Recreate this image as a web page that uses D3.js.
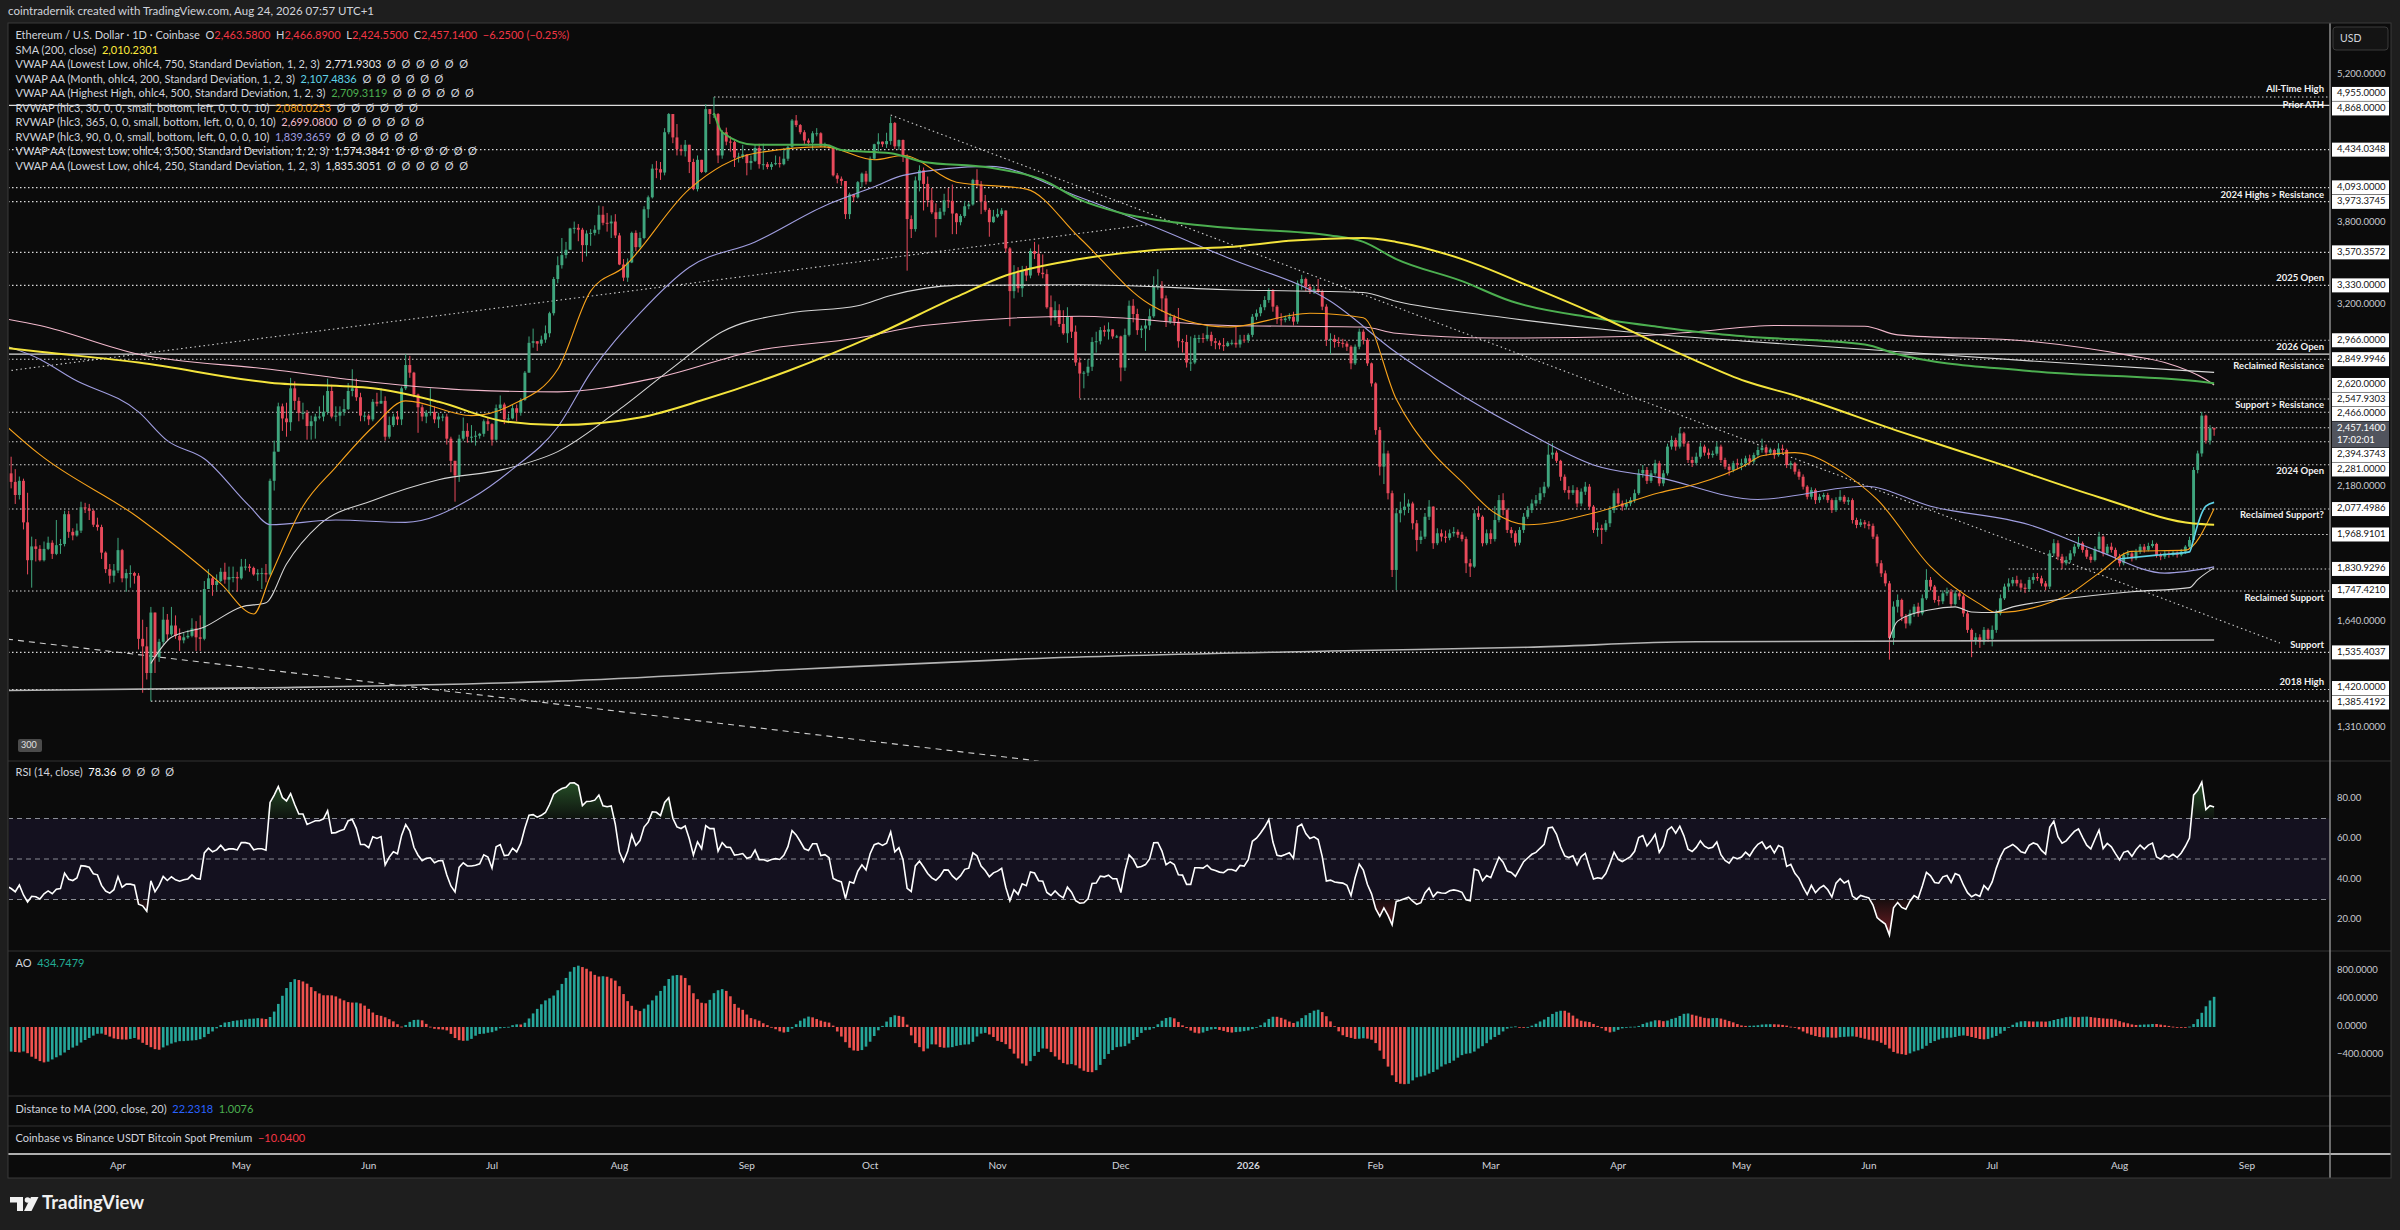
<!DOCTYPE html>
<html lang="en">
<head>
<meta charset="UTF-8" />
<title>Ethereum / U.S. Dollar - 1D - Coinbase</title>
<script src="https://d3js.org/d3.v7.min.js"></script>
<style>
  html, body { margin: 0; padding: 0; background: #1e1e1e; }
  svg { display: block; font-family: Lato, "Open Sans", sans-serif; }
  .pre { white-space: pre; }
</style>
</head>
<body>
<svg id="chart" width="2400" height="1230"></svg>
<script>
// ---- daily candles, Coinbase ETH-USD, open = previous close ----
const startDay = "2025-02-01";
const firstOpen = 3300;
const closes = [
  // 2025 Feb
  3120,2870,2880,2730,2785,2690,2630,2635,2630,2660,2600,2740,2675,2725,2690,2665,2745,2675,2720,2740,2665,2765,2820,2500,2490,2340,2310,2240,
  // Mar
  2220,2520,2150,2170,2240,2200,2140,2205,2020,1865,1920,1910,1865,1910,1935,1890,1925,1930,2055,1980,1965,1985,2085,2080,2070,2010,2000,1895,1830,1805,1825,
  // Apr
  1905,1795,1815,1815,1805,1580,1555,1470,1670,1520,1570,1645,1595,1625,1590,1575,1585,1590,1615,1585,1580,1755,1795,1770,1785,1820,1790,1800,1800,1795,
  // May
  1840,1840,1835,1810,1815,1815,1810,2205,2345,2580,2515,2495,2680,2610,2545,2545,2475,2500,2525,2525,2550,2665,2525,2530,2550,2565,2665,2680,2630,2530,2530,
  // Jun
  2510,2605,2595,2610,2420,2480,2525,2510,2680,2815,2770,2645,2575,2525,2545,2550,2510,2525,2525,2410,2300,2230,2410,2450,2420,2420,2425,2435,2500,2485,
  // Jul
  2405,2570,2590,2510,2515,2570,2545,2615,2770,2950,2960,2945,2970,3010,3140,3375,3475,3550,3590,3755,3760,3745,3625,3715,3720,3745,3865,3800,3795,3810,3700,
  // Aug
  3480,3385,3495,3720,3610,3680,3910,4010,4260,4255,4225,4600,4780,4550,4440,4420,4480,4320,4080,4340,4230,4830,4780,4780,4380,4600,4510,4505,4360,4370,4390,
  // Sep
  4310,4330,4450,4300,4300,4275,4300,4310,4300,4350,4460,4715,4670,4600,4520,4500,4590,4590,4470,4480,4450,4200,4170,4150,3870,4035,4010,4140,4215,4145,
  // Oct
  4350,4485,4510,4485,4515,4690,4465,4525,4370,3830,3750,4155,4245,4125,3985,3885,3830,3890,3985,3980,3875,3805,3855,3935,3950,4160,4120,3975,3905,3805,3850,
  // Nov
  3870,3900,3600,3290,3420,3310,3440,3400,3580,3560,3420,3410,3180,3110,3160,3070,3010,3120,3020,2830,2765,2770,2805,2955,2960,3030,3020,3035,2990,2990,
  // Dec
  2800,3000,3190,3135,3030,3040,3060,3120,3320,3325,3240,3085,3115,3085,2960,2955,2830,2830,2980,2980,2975,3000,2960,2950,2935,2930,2950,2950,2940,2970,2966,
  // 2026 Jan
  3000,3117,3140,3180,3229,3298,3184,3100,3095,3105,3117,3085,3345,3375,3320,3290,3305,3290,3184,2968,2975,2955,2950,2945,2926,2825,2926,3020,2968,2825,2708,
  // Feb
  2454,2272,2336,2148,1827,2059,2073,2088,2102,2016,1946,1960,2044,2088,1933,1974,1960,1955,1974,1980,1968,1950,1853,1840,2059,2044,1933,1974,
  // Mar
  1950,2030,2117,2073,1988,1974,1935,1988,2044,2073,2102,2117,2148,2178,2330,2340,2300,2224,2162,2150,2162,2102,2155,2178,2088,1988,1995,1988,2016,2073,2148,
  // Apr
  2102,2088,2102,2117,2148,2240,2256,2205,2240,2288,2193,2240,2370,2403,2370,2437,2385,2304,2290,2320,2370,2340,2328,2335,2370,2304,2272,2256,2288,2280,
  // May
  2288,2312,2296,2328,2353,2365,2340,2353,2328,2360,2353,2280,2288,2248,2224,2178,2132,2162,2117,2132,2140,2117,2073,2117,2132,2110,2117,2030,2009,2020,2012,
  // Jun
  2005,1960,1853,1814,1776,1583,1691,1715,1656,1632,1667,1691,1667,1721,1789,1764,1715,1710,1739,1745,1700,1739,1728,1667,1610,1576,1585,1570,1610,1580,
  // Jul
  1610,1667,1721,1764,1776,1789,1776,1760,1755,1789,1800,1795,1776,1764,1892,1933,1879,1853,1866,1892,1919,1933,1906,1879,1866,1910,1960,1892,1919,1906,1879,
  // Aug
  1853,1886,1892,1872,1899,1919,1906,1922,1930,1886,1879,1892,1886,1895,1886,1899,1919,1946,2256,2336,2530,2400,2463.58,2457.14
];
const highs = [
  3340,3160,2950,2920,2830,2860,2795,2680,2700,2700,2730,2790,2780,2790,2740,2720,2850,2760,2730,2770,2850,2780,2855,2830,2545,2520,2385,2325,
  2260,2550,2525,2215,2280,2320,2260,2225,2215,2150,1960,1950,1925,1940,1960,1945,2030,1950,2070,2070,1995,2015,2110,2105,2100,2075,2040,2010,1900,1850,1850,
  1955,1910,1830,1845,1820,1815,1645,1620,1690,1670,1580,1690,1665,1690,1660,1615,1600,1610,1650,1640,1660,1785,1830,1800,1810,1835,1855,1840,1840,1820,
  1870,1870,1850,1840,1830,1835,1850,2215,2400,2600,2595,2600,2740,2720,2630,2600,2560,2530,2540,2580,2640,2735,2700,2580,2580,2620,2710,2790,2735,2655,2545,
  2540,2620,2655,2680,2635,2525,2540,2555,2690,2880,2870,2775,2650,2590,2560,2680,2580,2545,2540,2540,2420,2300,2430,2520,2490,2480,2450,2440,2510,2520,
  2490,2590,2640,2600,2540,2590,2590,2625,2780,2990,3040,2960,2995,3060,3150,3390,3540,3680,3650,3760,3810,3790,3760,3740,3750,3780,3940,3935,3880,3860,3870,
  3720,3520,3525,3730,3740,3725,3935,4025,4300,4330,4320,4640,4790,4780,4680,4480,4525,4480,4350,4380,4340,4880,4825,4955,4790,4620,4645,4560,4520,4405,4480,
  4390,4380,4480,4490,4490,4320,4320,4380,4370,4450,4470,4730,4770,4680,4620,4540,4610,4640,4600,4500,4480,4450,4220,4190,4150,4050,4040,4150,4225,4240,
  4370,4490,4590,4510,4595,4755,4700,4530,4530,4390,3860,4190,4290,4270,4190,4090,3960,3920,4040,4090,4120,3880,3870,3980,3970,4170,4255,4150,4030,3920,3905,
  3915,3920,3900,3610,3475,3460,3470,3470,3600,3650,3630,3555,3445,3260,3220,3200,3160,3180,3100,3060,2860,2780,2850,2985,3020,3050,3060,3080,3035,3000,
  2995,3040,3225,3235,3170,3060,3100,3170,3395,3445,3360,3260,3140,3130,3175,2975,3000,2990,3000,3000,3010,3055,3020,2980,2965,2980,2960,2970,3050,3000,3000,
  3010,3135,3165,3200,3255,3310,3305,3195,3140,3125,3140,3150,3365,3405,3385,3340,3325,3375,3300,3200,3010,3000,2985,2975,2960,2935,2940,3040,3035,2980,2830,
  2715,2470,2400,2350,2160,2080,2110,2148,2120,2110,2030,1985,2060,2117,2090,1995,1990,1985,1990,2000,1990,1980,1960,1870,2075,2090,2050,1990,
  1990,2090,2140,2148,2080,2000,1985,2000,2060,2090,2120,2140,2175,2200,2380,2387,2350,2305,2235,2180,2185,2175,2170,2200,2190,2095,2020,2010,2030,2090,2160,
  2170,2115,2120,2130,2165,2260,2280,2270,2255,2305,2300,2255,2385,2425,2415,2466,2445,2395,2320,2340,2390,2380,2360,2350,2395,2380,2315,2285,2300,2310,
  2310,2325,2330,2340,2370,2410,2380,2365,2360,2387,2380,2360,2300,2295,2260,2235,2185,2175,2170,2145,2150,2150,2125,2130,2162,2140,2130,2125,2040,2035,2030,
  2025,2015,1970,1865,1825,1785,1710,1735,1720,1665,1680,1700,1705,1735,1830,1800,1770,1730,1750,1760,1755,1750,1750,1735,1675,1615,1600,1595,1620,1615,
  1625,1680,1735,1775,1795,1800,1805,1790,1775,1800,1815,1815,1805,1785,1905,1950,1945,1890,1880,1905,1930,1960,1940,1915,1890,1920,1980,1965,1930,1935,1915,
  1890,1895,1905,1900,1910,1930,1930,1935,1945,1935,1895,1905,1900,1905,1900,1910,1925,1960,2270,2350,2550,2535,2480,2466.89
];
const lows = [
  3110,2730,2150,2650,2720,2660,2565,2590,2550,2600,2580,2560,2655,2660,2675,2650,2665,2640,2660,2705,2625,2655,2740,2490,2330,2310,2250,2080,
  2140,2180,2100,1995,2160,2170,2100,2120,1990,1810,1760,1860,1860,1860,1905,1870,1885,1890,1920,1955,1945,1960,1975,2060,2030,2000,1985,1870,1815,1775,1780,
  1815,1780,1745,1760,1775,1545,1410,1450,1385,1470,1505,1560,1575,1590,1580,1540,1565,1580,1585,1540,1540,1575,1760,1730,1750,1780,1775,1740,1780,1745,
  1790,1825,1820,1805,1785,1755,1780,1805,2160,2345,2450,2420,2450,2560,2500,2510,2405,2405,2410,2510,2500,2535,2515,2500,2475,2530,2560,2635,2610,2500,2500,
  2480,2500,2580,2600,2400,2410,2470,2480,2480,2670,2740,2630,2440,2500,2490,2530,2490,2465,2500,2380,2245,2110,2200,2400,2390,2390,2375,2410,2420,2450,
  2375,2400,2555,2485,2490,2510,2500,2530,2610,2770,2920,2900,2930,2950,2985,3125,3345,3450,3525,3590,3715,3655,3500,3540,3620,3700,3710,3780,3730,3680,3680,
  3475,3360,3355,3490,3580,3600,3670,3840,4000,4175,4160,4200,4580,4495,4380,4380,4370,4220,4070,4060,4220,4220,4680,4740,4310,4350,4475,4415,4275,4315,4350,
  4200,4250,4320,4260,4250,4255,4250,4290,4270,4290,4330,4450,4650,4580,4480,4470,4430,4560,4460,4450,4440,4190,4130,4110,3830,3830,3970,4000,4095,4120,
  4140,4340,4420,4460,4450,4480,4440,4430,4320,3435,3680,3730,4060,3900,3930,3870,3685,3830,3860,3920,3710,3710,3780,3840,3910,3940,4100,3870,3890,3690,3800,
  3840,3855,3570,3055,3240,3280,3250,3360,3380,3520,3400,3380,3170,3060,3090,3050,3000,2950,2980,2810,2625,2680,2750,2780,2890,2940,2990,2970,2975,2980,
  2720,2780,2990,3080,3000,2980,2900,3030,3110,3300,3150,3050,3070,3060,2920,2890,2800,2780,2820,2950,2950,2960,2930,2910,2910,2900,2925,2935,2920,2920,2950,
  2950,2985,3095,3120,3160,3210,3150,3070,3060,3080,3090,3060,3070,3300,3290,3270,3270,3275,3160,2930,2880,2920,2925,2920,2900,2790,2815,2910,2940,2810,2690,
  2430,2230,2190,2120,1800,1751,2020,2050,2060,1990,1900,1930,1950,2030,1910,1925,1940,1935,1945,1960,1955,1940,1815,1800,1835,2030,1920,1925,
  1930,1940,2020,2050,1975,1955,1920,1925,1975,2035,2060,2090,2100,2130,2170,2310,2290,2205,2150,2120,2140,2085,2090,2140,2075,1975,1960,1930,1980,2000,2060,
  2090,2070,2075,2090,2105,2140,2220,2190,2195,2230,2180,2180,2230,2355,2350,2360,2370,2290,2270,2280,2310,2325,2310,2315,2325,2290,2260,2230,2245,2260,
  2255,2270,2280,2285,2315,2340,2325,2330,2310,2320,2335,2265,2260,2235,2210,2165,2120,2120,2100,2105,2120,2105,2060,2065,2110,2100,2095,2015,1995,2000,1995,
  1990,1950,1840,1800,1765,1512,1560,1670,1640,1615,1625,1655,1655,1660,1715,1750,1705,1695,1700,1730,1690,1695,1715,1655,1600,1520,1560,1550,1560,1570,
  1555,1600,1660,1715,1750,1765,1765,1750,1740,1745,1775,1785,1765,1750,1755,1880,1865,1830,1845,1855,1880,1910,1895,1870,1855,1860,1900,1880,1885,1895,1865,
  1840,1845,1870,1860,1865,1890,1895,1900,1915,1875,1865,1870,1875,1880,1875,1880,1890,1910,1940,2240,2320,2385,2380,2424.55
];

// ---- indicator lines (date, value) ----
const sma200 = [["2025-03-01",2930],["2025-03-13",2895],["2025-04-06",2830],["2025-05-08",2712],["2025-06-02",2680],["2025-06-18",2605],["2025-07-04",2500],["2025-07-17",2480],["2025-08-06",2520],["2025-08-22",2620],["2025-09-11",2780],["2025-10-02",2995],["2025-10-22",3250],["2025-11-03",3400],["2025-11-21",3520],["2025-12-08",3585],["2025-12-27",3610],["2026-01-12",3660],["2026-01-29",3680],["2026-02-06",3650],["2026-02-22",3520],["2026-03-10",3330],["2026-03-26",3140],["2026-04-11",2940],["2026-04-20",2840],["2026-05-02",2720],["2026-05-14",2640],["2026-06-08",2450],["2026-07-02",2290],["2026-07-27",2130],["2026-08-19",2015],["2026-08-24",2010]];
const vwapHighestHigh = [["2025-08-24",4790],["2025-08-26",4600],["2025-09-03",4480],["2025-09-20",4480],["2025-09-24",4430],["2025-10-06",4400],["2025-10-14",4320],["2025-10-30",4270],["2025-11-12",4160],["2025-11-21",3990],["2025-12-01",3880],["2025-12-15",3800],["2025-12-27",3760],["2026-01-21",3700],["2026-01-29",3650],["2026-02-06",3520],["2026-02-22",3360],["2026-03-06",3220],["2026-03-26",3110],["2026-04-11",3050],["2026-04-20",3020],["2026-05-02",2990],["2026-05-31",2940],["2026-06-08",2880],["2026-07-10",2780],["2026-08-20",2720],["2026-08-24",2709]];
const vwapLowest750 = [["2025-04-09",1500],["2025-04-14",1585],["2025-04-22",1620],["2025-05-01",1690],["2025-05-07",1705],["2025-05-12",1850],["2025-05-20",2010],["2025-06-02",2115],["2025-06-18",2210],["2025-07-04",2260],["2025-07-17",2345],["2025-08-02",2580],["2025-08-14",2800],["2025-08-26",3020],["2025-09-11",3140],["2025-09-28",3190],["2025-10-06",3260],["2025-10-22",3330],["2025-11-21",3335],["2025-12-27",3300],["2026-01-29",3280],["2026-02-06",3220],["2026-03-02",3120],["2026-04-03",3020],["2026-05-02",2960],["2026-05-31",2910],["2026-07-10",2840],["2026-08-24",2772]];
const rvwap365 = [["2025-03-01",3120],["2025-03-13",3060],["2025-04-06",2880],["2025-05-08",2790],["2025-06-02",2715],["2025-06-26",2670],["2025-07-17",2660],["2025-08-10",2740],["2025-09-03",2900],["2025-09-28",2980],["2025-10-14",3060],["2025-11-21",3120],["2025-12-27",3060],["2026-01-29",3050],["2026-02-06",3010],["2026-03-02",2980],["2026-04-03",2990],["2026-04-20",3020],["2026-05-09",3060],["2026-05-31",3055],["2026-06-08",3000],["2026-07-10",2960],["2026-08-04",2870],["2026-08-12",2830],["2026-08-22",2730],["2026-08-24",2699]];
const rvwap90 = [["2025-03-01",2960],["2025-03-13",2850],["2025-03-21",2735],["2025-04-06",2550],["2025-04-13",2400],["2025-04-22",2310],["2025-05-03",2090],["2025-05-08",2010],["2025-05-24",2030],["2025-06-10",2020],["2025-06-26",2125],["2025-07-06",2260],["2025-07-17",2470],["2025-07-25",2770],["2025-08-06",3140],["2025-08-18",3460],["2025-09-03",3650],["2025-09-20",3940],["2025-10-02",4100],["2025-10-09",4200],["2025-10-30",4280],["2025-11-21",4010],["2025-12-27",3530],["2026-01-21",3220],["2026-02-06",2890],["2026-02-22",2640],["2026-03-10",2440],["2026-03-26",2280],["2026-04-11",2220],["2026-05-05",2120],["2026-05-31",2180],["2026-06-16",2090],["2026-07-10",2010],["2026-07-27",1900],["2026-08-12",1815],["2026-08-24",1839]];
const rvwap30 = [["2025-03-01",2550],["2025-03-13",2330],["2025-04-06",2040],["2025-04-26",1775],["2025-05-04",1665],["2025-05-08",1800],["2025-05-16",2090],["2025-05-24",2270],["2025-06-02",2470],["2025-06-10",2610],["2025-06-26",2530],["2025-07-06",2590],["2025-07-17",2790],["2025-07-25",3290],["2025-08-02",3460],["2025-08-18",4080],["2025-09-03",4400],["2025-09-20",4460],["2025-10-02",4340],["2025-10-09",4380],["2025-10-22",4140],["2025-11-08",4080],["2025-11-21",3680],["2025-12-08",3200],["2025-12-27",3050],["2026-01-16",3140],["2026-01-29",3110],["2026-02-06",2620],["2026-02-14",2360],["2026-02-22",2200],["2026-03-02",2060],["2026-03-10",2010],["2026-03-26",2060],["2026-04-11",2150],["2026-04-20",2190],["2026-05-02",2280],["2026-05-06",2325],["2026-05-14",2340],["2026-05-26",2240],["2026-06-03",2120],["2026-06-16",1840],["2026-06-28",1700],["2026-07-02",1670],["2026-07-19",1730],["2026-07-27",1815],["2026-08-04",1900],["2026-08-17",1905],["2026-08-24",2080]];
const vwapMonth = [["2026-08-01",1870],["2026-08-10",1885],["2026-08-18",1898],["2026-08-19",1950],["2026-08-20",2010],["2026-08-21",2060],["2026-08-22",2090],["2026-08-24",2107]];
const vwapLowest250 = [["2026-06-06",1580],["2026-06-08",1640],["2026-06-16",1680],["2026-06-22",1690],["2026-06-26",1672],["2026-07-01",1670],["2026-07-06",1690],["2026-07-19",1720],["2026-08-04",1745],["2026-08-18",1760],["2026-08-20",1790],["2026-08-24",1835]];
const vwapLowest3500 = [["2025-03-01",1416],["2025-05-08",1425],["2025-07-17",1445],["2025-09-11",1480],["2025-11-08",1515],["2026-01-21",1540],["2026-03-10",1552],["2026-04-20",1570],["2026-08-24",1576]];

// ---- drawn levels and trend lines ----
const levels = [
  {price: 4955, name: "All-Time High", from: "2025-08-24"},
  {price: 4868, name: "Prior ATH", solid: true},
  {price: 4434.0348},
  {price: 4093, name: "2024 Highs > Resistance"},
  {price: 3973.3745},
  {price: 3570.3572},
  {price: 3330, name: "2025 Open"},
  {price: 2966, name: "2026 Open", from: "2026-01-01"},
  {price: 2849.9946, name: "Reclaimed Resistance"},
  {price: 2620, from: "2025-11-21"},
  {price: 2547.9303, name: "Support > Resistance"},
  {price: 2466, from: "2026-04-16"},
  {price: 2394.3743},
  {price: 2281, name: "2024 Open"},
  {price: 2077.4986, name: "Reclaimed Support?"},
  {price: 1968.9101, from: "2026-07-19"},
  {price: 1830.9296, from: "2026-07-05"},
  {price: 1747.421, name: "Reclaimed Support"},
  {price: 1535.4037, name: "Support"},
  {price: 1420, name: "2018 High"},
  {price: 1385.4192, from: "2025-04-09"}
];
const extraLine = 2880;   // solid horizontal with no scale label
const trendLines = [
  {a: ["2025-03-05", 1579], b: ["2025-11-11", 1221], dash: "6,5"},
  {a: ["2025-03-05", 2780], b: ["2025-12-08", 3787], dash: "1.5,3"},
  {a: ["2025-10-06", 4770], b: ["2026-09-09", 1566], dash: "1.5,3"}
];
const priceTicks = [5200, 3800, 3400, 3200, 3000, 2800, 2180, 1940, 1640, 1460, 1310];
const rsiTicks = [80, 60, 40, 20];
const aoTicks = [800, 400, 0, -400];
const lastPrice = 2457.14, countdown = "17:02:01";

const legendRows = [
  [["Ethereum / U.S. Dollar · 1D · Coinbase  O", "txt"], ["2,463.5800", "red"], ["  H", "txt"], ["2,466.8900", "red"], ["  L", "txt"], ["2,424.5500", "red"], ["  C", "txt"], ["2,457.1400", "red"], ["  −6.2500 (−0.25%)", "red"]],
  [["SMA (200, close)  ", "txt"], ["2,010.2301", "yellow"]],
  [["VWAP AA (Lowest Low, ohlc4, 750, Standard Deviation, 1, 2, 3)  ", "txt"], ["2,771.9303", "white"], ["  Ø  Ø  Ø  Ø  Ø  Ø", "txt"]],
  [["VWAP AA (Month, ohlc4, 200, Standard Deviation, 1, 2, 3)  ", "txt"], ["2,107.4836", "cyan"], ["  Ø  Ø  Ø  Ø  Ø  Ø", "txt"]],
  [["VWAP AA (Highest High, ohlc4, 500, Standard Deviation, 1, 2, 3)  ", "txt"], ["2,709.3119", "green"], ["  Ø  Ø  Ø  Ø  Ø  Ø", "txt"]],
  [["RVWAP (hlc3, 30, 0, 0, small, bottom, left, 0, 0, 0, 10)  ", "txt"], ["2,080.0253", "orange"], ["  Ø  Ø  Ø  Ø  Ø  Ø", "txt"]],
  [["RVWAP (hlc3, 365, 0, 0, small, bottom, left, 0, 0, 0, 10)  ", "txt"], ["2,699.0800", "pink"], ["  Ø  Ø  Ø  Ø  Ø  Ø", "txt"]],
  [["RVWAP (hlc3, 90, 0, 0, small, bottom, left, 0, 0, 0, 10)  ", "txt"], ["1,839.3659", "lavender"], ["  Ø  Ø  Ø  Ø  Ø  Ø", "txt"]],
  [["VWAP AA (Lowest Low, ohlc4, 3,500, Standard Deviation, 1, 2, 3)  ", "txt"], ["1,574.3841", "white"], ["  Ø  Ø  Ø  Ø  Ø  Ø", "txt"]],
  [["VWAP AA (Lowest Low, ohlc4, 250, Standard Deviation, 1, 2, 3)  ", "txt"], ["1,835.3051", "white"], ["  Ø  Ø  Ø  Ø  Ø  Ø", "txt"]]
];

// ---------------- drawing ----------------
const col = {
  bg: "#1e1e1e", pane: "#0b0b0b", txt: "#d1d4dc", sep: "#2f2f2f", axisLine: "#8c8c8c",
  up: "#3fa57d", down: "#e84a5b", red: "#f23645", yellow: "#ffeb3b", white: "#e8e8e8",
  cyan: "#5fd3e8", green: "#4caf50", orange: "#f7a21b", pink: "#f2b8cc", lavender: "#a09ee0",
  aoUp: "#26a69a", aoDown: "#f0524f"
};
const L = 8, R = 2391, PR = 2330;
const pane = {main: [23, 761], rsi: [761, 951], ao: [951, 1096], dist: [1096, 1126], prem: [1126, 1154], axis: [1154, 1178]};

const svg = d3.select("#chart");
const parse = d3.utcParse("%Y-%m-%d");
const t0 = parse(startDay);

const bars = closes.map((c, i) => {
  const o = i ? closes[i - 1] : firstOpen;
  return {date: d3.utcDay.offset(t0, i), o, c, h: Math.max(highs[i], o, c), l: Math.min(lows[i], o, c)};
});

const x = d3.scaleUtc().domain([parse("2025-04-01"), parse("2026-09-01")]).range([118, 2247]);
const y = d3.scaleLog().domain([1221, 5792]).range([761, 23]);
const yR = d3.scaleLinear().domain([0, 100]).range([960.25, 757.75]);
const yA = d3.scaleLinear().domain([-400, 800]).range([1055, 971]);

// background
svg.append("rect").attr("width", 2400).attr("height", 1230).attr("fill", col.bg);
svg.append("rect").attr("x", L).attr("y", pane.main[0]).attr("width", R - L).attr("height", pane.axis[1] - pane.main[0]).attr("fill", col.pane);

const defs = svg.append("defs");
function clip(id, top, bottom) {
  defs.append("clipPath").attr("id", id).append("rect").attr("x", L + 1).attr("y", top).attr("width", PR - L - 1).attr("height", bottom - top);
  return `url(#${id})`;
}
const clipMain = clip("cMain", pane.main[0] + 1, pane.main[1]);
const clipRsi = clip("cRsi", pane.rsi[0] + 1, pane.rsi[1]);
const clipAo = clip("cAo", pane.ao[0] + 1, pane.ao[1]);

// title
svg.append("text").attr("x", 8).attr("y", 12).attr("dominant-baseline", "middle")
  .attr("font-size", 11.5).attr("fill", col.txt)
  .text("cointradernik created with TradingView.com, Aug 24, 2026 07:57 UTC+1");

// ---- main pane ----
const gMain = svg.append("g").attr("clip-path", clipMain);

// horizontal levels
levels.forEach(lv => {
  const x0 = lv.from ? x(parse(lv.from)) : L;
  gMain.append("line").attr("x1", x0).attr("x2", PR).attr("y1", y(lv.price)).attr("y2", y(lv.price))
    .attr("stroke", "#dcdcdc").attr("stroke-width", lv.solid ? 1.2 : 1.1)
    .attr("stroke-dasharray", lv.solid ? null : "1.5,2.5");
});
gMain.append("line").attr("x1", L).attr("x2", PR).attr("y1", y(extraLine)).attr("y2", y(extraLine))
  .attr("stroke", "#e0e0e0").attr("stroke-width", 1.2);

// trend lines
trendLines.forEach(t => {
  gMain.append("line")
    .attr("x1", x(parse(t.a[0]))).attr("y1", y(t.a[1]))
    .attr("x2", x(parse(t.b[0]))).attr("y2", y(t.b[1]))
    .attr("stroke", "#cfcfcf").attr("stroke-width", 1.1).attr("stroke-dasharray", t.dash);
});

// candles
const bw = 2.9;
const cg = gMain.append("g");
cg.selectAll("line.wick").data(bars).join("line").attr("class", "wick")
  .attr("x1", d => x(d.date)).attr("x2", d => x(d.date))
  .attr("y1", d => y(d.h)).attr("y2", d => y(d.l))
  .attr("stroke", d => d.c >= d.o ? col.up : col.down).attr("stroke-width", 1);
cg.selectAll("rect.body").data(bars).join("rect").attr("class", "body")
  .attr("x", d => x(d.date) - bw / 2).attr("width", bw)
  .attr("y", d => y(Math.max(d.o, d.c)))
  .attr("height", d => Math.max(1, Math.abs(y(d.o) - y(d.c))))
  .attr("fill", d => d.c >= d.o ? col.up : col.down);

// indicator lines
const line = d3.line().x(d => x(parse(d[0]))).y(d => y(d[1])).curve(d3.curveMonotoneX);
const series = [
  [vwapLowest3500, "#b4b4b4", 1.6],
  [rvwap365, col.pink, 1.1],
  [vwapLowest750, "#d6d6d6", 1.1],
  [rvwap90, col.lavender, 1.1],
  [rvwap30, col.orange, 1.1],
  [vwapLowest250, "#d6d6d6", 1.1],
  [vwapHighestHigh, col.green, 2],
  [sma200, "#f4e43c", 2],
  [vwapMonth, col.cyan, 1.6]
];
series.forEach(([d, c, w]) => {
  gMain.append("path").attr("d", line(d)).attr("fill", "none").attr("stroke", c).attr("stroke-width", w);
});

// level names
const aboveNames = new Set(["All-Time High", "2025 Open", "Support > Resistance", "Support", "2018 High"]);
levels.filter(lv => lv.name).forEach(lv => {
  let ty = y(lv.price);
  if (lv.name === "Prior ATH") ty += 0.5;
  else if (lv.name === "2024 Highs > Resistance") ty += 8;
  else ty += aboveNames.has(lv.name) ? -7 : 7;
  svg.append("text").attr("x", 2324).attr("y", ty).attr("text-anchor", "end").attr("dominant-baseline", "middle")
    .attr("font-size", 9.5).attr("font-weight", 700).attr("fill", "#f2f2f2").text(lv.name);
});

// "300" badge
svg.append("rect").attr("x", 18).attr("y", 739).attr("width", 24).attr("height", 13).attr("rx", 2).attr("fill", "#4b4b4b");
svg.append("text").attr("x", 21).attr("y", 746).attr("dominant-baseline", "middle").attr("font-size", 9).attr("fill", "#e0e0e0").text("300");

// legend
const legend = svg.append("g");
legendRows.forEach((row, i) => {
  const t = legend.append("text").attr("class", "pre").attr("x", 15.5).attr("y", 36 + i * 14.55)
    .attr("dominant-baseline", "middle").attr("font-size", 11);
  row.forEach(([s, c]) => t.append("tspan").attr("fill", col[c]).text(s));
});

// ---- RSI pane ----
const rsi = new Array(bars.length).fill(null);
{
  let ag = 0, al = 0;
  for (let i = 1; i < bars.length; i++) {
    const ch = closes[i] - closes[i - 1];
    const g = Math.max(ch, 0), lo = Math.max(-ch, 0);
    if (i <= 14) { ag += g / 14; al += lo / 14; if (i === 14) rsi[i] = 100 - 100 / (1 + ag / al); }
    else { ag = (ag * 13 + g) / 14; al = (al * 13 + lo) / 14; rsi[i] = 100 - 100 / (1 + ag / al); }
  }
}
const rsiPts = bars.map((b, i) => ({date: b.date, v: rsi[i]})).filter(d => d.v !== null);
const gR = svg.append("g").attr("clip-path", clipRsi);
gR.append("rect").attr("x", L).attr("width", PR - L).attr("y", yR(70)).attr("height", yR(30) - yR(70)).attr("fill", "#14111f");
const gradUp = defs.append("linearGradient").attr("id", "obFill").attr("gradientUnits", "userSpaceOnUse")
  .attr("x1", 0).attr("x2", 0).attr("y1", yR(95)).attr("y2", yR(70));
gradUp.append("stop").attr("offset", 0).attr("stop-color", "#4caf50").attr("stop-opacity", 0.55);
gradUp.append("stop").attr("offset", 1).attr("stop-color", "#4caf50").attr("stop-opacity", 0.05);
const gradDn = defs.append("linearGradient").attr("id", "osFill").attr("gradientUnits", "userSpaceOnUse")
  .attr("x1", 0).attr("x2", 0).attr("y1", yR(30)).attr("y2", yR(5));
gradDn.append("stop").attr("offset", 0).attr("stop-color", "#f23645").attr("stop-opacity", 0.05);
gradDn.append("stop").attr("offset", 1).attr("stop-color", "#f23645").attr("stop-opacity", 0.6);
gR.append("path").attr("fill", "url(#obFill)")
  .attr("d", d3.area().x(d => x(d.date)).y0(yR(70)).y1(d => Math.min(yR(d.v), yR(70)))(rsiPts));
gR.append("path").attr("fill", "url(#osFill)")
  .attr("d", d3.area().x(d => x(d.date)).y0(yR(30)).y1(d => Math.max(yR(d.v), yR(30)))(rsiPts));
[70, 50, 30].forEach(v => gR.append("line").attr("x1", L).attr("x2", PR).attr("y1", yR(v)).attr("y2", yR(v))
  .attr("stroke", "#8a8d96").attr("stroke-dasharray", "5,4").attr("stroke-width", 1));
gR.append("path").attr("fill", "none").attr("stroke", "#ffffff").attr("stroke-width", 1.6)
  .attr("d", d3.line().x(d => x(d.date)).y(d => yR(d.v))(rsiPts));

// ---- AO pane ----
const med = bars.map(b => (b.h + b.l) / 2);
const ao = bars.map((b, i) => i >= 33 ? d3.mean(med.slice(i - 4, i + 1)) - d3.mean(med.slice(i - 33, i + 1)) : null);
const aoPts = bars.map((b, i) => ({date: b.date, v: ao[i], up: i > 0 && ao[i - 1] !== null ? ao[i] >= ao[i - 1] : true})).filter(d => d.v !== null);
const gA = svg.append("g").attr("clip-path", clipAo);
gA.selectAll("rect").data(aoPts).join("rect")
  .attr("x", d => x(d.date) - 1.3).attr("width", 2.6)
  .attr("y", d => Math.min(yA(d.v), yA(0))).attr("height", d => Math.max(0.8, Math.abs(yA(d.v) - yA(0))))
  .attr("fill", d => d.up ? col.aoUp : col.aoDown);

// pane labels
function paneLabel(yy, parts) {
  const t = svg.append("text").attr("class", "pre").attr("x", 15.5).attr("y", yy).attr("dominant-baseline", "middle").attr("font-size", 11);
  parts.forEach(([s, c]) => t.append("tspan").attr("fill", c).text(s));
}
paneLabel(773, [["RSI (14, close)  ", col.txt], ["78.36", "#ffffff"], ["  Ø  Ø  Ø  Ø", col.txt]]);
paneLabel(964, [["AO  ", col.txt], ["434.7479", "#22ab94"]]);
paneLabel(1110, [["Distance to MA (200, close, 20)  ", col.txt], ["22.2318", "#2962ff"], ["  ", col.txt], ["1.0076", "#4caf50"]]);
paneLabel(1139, [["Coinbase vs Binance USDT Bitcoin Spot Premium  ", col.txt], ["−10.0400", "#f23645"]]);

// pane separators
[pane.rsi[0], pane.ao[0], pane.dist[0], pane.prem[0]].forEach(v =>
  svg.append("line").attr("x1", L).attr("x2", R).attr("y1", v).attr("y2", v).attr("stroke", "#333").attr("stroke-width", 1.2));
svg.append("line").attr("x1", L).attr("x2", R).attr("y1", pane.axis[0]).attr("y2", pane.axis[0]).attr("stroke", "#e6e6e6").attr("stroke-width", 1.3);
svg.append("line").attr("x1", PR).attr("x2", PR).attr("y1", pane.main[0]).attr("y2", pane.axis[1]).attr("stroke", col.axisLine).attr("stroke-width", 1.5);
svg.append("rect").attr("x", L).attr("y", pane.main[0]).attr("width", R - L).attr("height", pane.axis[1] - pane.main[0])
  .attr("fill", "none").attr("stroke", "#3a3a3a");

// ---- right price scale ----
const fmt4 = d3.format(",.4f");
svg.append("rect").attr("x", 2333).attr("y", 27).attr("width", 55).attr("height", 23).attr("rx", 3)
  .attr("fill", "#141414").attr("stroke", "#3a3a3a");
svg.append("text").attr("x", 2340).attr("y", 39).attr("dominant-baseline", "middle").attr("font-size", 10.5).attr("fill", col.txt).text("USD");

// price tags: the last-price tag keeps its place, level tags make room around it
const tags = levels.map(lv => ({y: y(lv.price), h: 14, text: fmt4(lv.price), kind: "level"}));
tags.push({y: y(lastPrice) + 5, h: 26, text: fmt4(lastPrice), kind: "last"});
tags.sort((a, b) => a.y - b.y);
for (let k = 0; k < 120; k++) {
  for (let i = 1; i < tags.length; i++) {
    const a = tags[i - 1], b = tags[i];
    const need = (a.h + b.h) / 2 + 0.5 - (b.y - a.y);
    if (need > 0) {
      if (a.kind === "last") b.y += need;
      else if (b.kind === "last") a.y -= need;
      else { a.y -= need / 2; b.y += need / 2; }
    }
  }
}
// plain ticks only where no price tag covers them
priceTicks.filter(p => tags.every(t => Math.abs(t.y - y(p)) > t.h / 2 + 5))
  .forEach(p => svg.append("text").attr("x", 2337).attr("y", y(p)).attr("dominant-baseline", "middle")
    .attr("font-size", 9.5).attr("fill", "#c8cad0").text(fmt4(p)));
tags.forEach(t => {
  if (t.kind === "last") {
    svg.append("rect").attr("x", 2332).attr("y", t.y - t.h / 2).attr("width", 57).attr("height", t.h).attr("fill", "#51545d");
    svg.append("text").attr("x", 2337).attr("y", t.y - 6).attr("dominant-baseline", "middle").attr("font-size", 9.5).attr("fill", "#ffffff").text(t.text);
    svg.append("text").attr("x", 2337).attr("y", t.y + 6.5).attr("dominant-baseline", "middle").attr("font-size", 9.5).attr("fill", "#ffffff").text(countdown);
  } else {
    svg.append("rect").attr("x", 2332).attr("y", t.y - t.h / 2).attr("width", 57).attr("height", t.h).attr("fill", "#ffffff");
    svg.append("text").attr("x", 2337).attr("y", t.y).attr("dominant-baseline", "middle").attr("font-size", 9.5).attr("fill", "#131313").text(t.text);
  }
});

rsiTicks.forEach(v => svg.append("text").attr("x", 2337).attr("y", yR(v)).attr("dominant-baseline", "middle")
  .attr("font-size", 9.5).attr("fill", "#c8cad0").text(d3.format(".2f")(v)));
aoTicks.forEach(v => svg.append("text").attr("x", 2337).attr("y", yA(v)).attr("dominant-baseline", "middle")
  .attr("font-size", 9.5).attr("fill", "#c8cad0").text(d3.format(".4f")(v)));

// ---- time axis ----
const months = d3.utcMonth.range(parse("2025-04-01"), parse("2026-09-02"));
months.forEach(m => {
  const isYear = m.getUTCMonth() === 0;
  svg.append("text").attr("x", x(m)).attr("y", 1166).attr("text-anchor", "middle").attr("dominant-baseline", "middle")
    .attr("font-size", 10).attr("font-weight", isYear ? 700 : 400).attr("fill", col.txt)
    .text(isYear ? d3.utcFormat("%Y")(m) : d3.utcFormat("%b")(m));
});

// ---- footer logo ----
const logo = svg.append("g").attr("fill", "#f0f0f0");
logo.append("path").attr("d", "M10,1197 h13 v14 h-6 v-8.5 h-7 z");
logo.append("circle").attr("cx", 27.5).attr("cy", 1200).attr("r", 2.8);
logo.append("path").attr("d", "M31,1197 h7.5 l-7,14 h-7.5 z");
svg.append("text").attr("x", 42).attr("y", 1204.5).attr("dominant-baseline", "middle")
  .attr("font-size", 18.5).attr("font-weight", 700).attr("fill", "#f0f0f0").text("TradingView");
</script>
</body>
</html>
